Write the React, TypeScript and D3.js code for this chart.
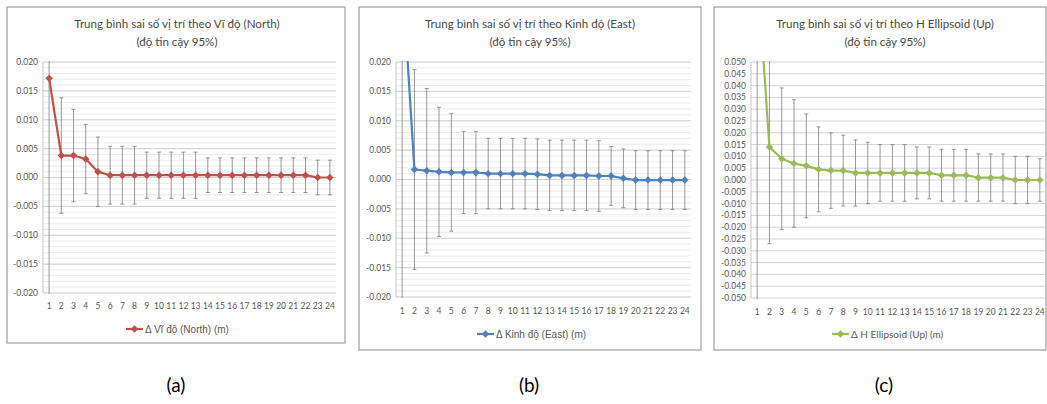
import React from 'react';
import * as d3 from 'd3';

// Epochs 1..24
const categories = ['1', '2', '3', '4', '5', '6', '7', '8', '9', '10', '11', '12', '13', '14', '15', '16', '17', '18', '19', '20', '21', '22', '23', '24'];

// Δ Vĩ độ (North), mean and 95% half-width (m)
const northMean = [0.0172, 0.0038, 0.0038, 0.0032, 0.0010, 0.0004, 0.0004, 0.0004, 0.0004, 0.0004, 0.0004, 0.0004, 0.0004, 0.0004, 0.0004, 0.0004, 0.0004, 0.0004, 0.0004, 0.0004, 0.0004, 0.0004, 0.0000, 0.0000];
const northErr = [0.040, 0.010, 0.008, 0.006, 0.006, 0.005, 0.005, 0.005, 0.004, 0.004, 0.004, 0.004, 0.004, 0.003, 0.003, 0.003, 0.003, 0.003, 0.003, 0.003, 0.003, 0.003, 0.003, 0.003];

// Δ Kinh độ (East)
const eastMean = [0.035, 0.0017, 0.0015, 0.0013, 0.0012, 0.0012, 0.0012, 0.0010, 0.0010, 0.0010, 0.0010, 0.0009, 0.0007, 0.0007, 0.0007, 0.0007, 0.0006, 0.0006, 0.0002, -0.0001, -0.0001, -0.0001, -0.0001, -0.0001];
const eastErr = [0.060, 0.017, 0.014, 0.011, 0.010, 0.007, 0.007, 0.006, 0.006, 0.006, 0.006, 0.006, 0.006, 0.006, 0.006, 0.006, 0.006, 0.005, 0.005, 0.005, 0.005, 0.005, 0.005, 0.005];

// Δ H Ellipsoid (Up)
const upMean = [0.090, 0.014, 0.009, 0.007, 0.006, 0.0045, 0.004, 0.004, 0.003, 0.003, 0.003, 0.003, 0.003, 0.003, 0.003, 0.002, 0.002, 0.002, 0.001, 0.001, 0.001, 0.000, 0.000, 0.000];
const upErr = [0.150, 0.041, 0.030, 0.027, 0.022, 0.018, 0.016, 0.015, 0.014, 0.013, 0.012, 0.012, 0.012, 0.011, 0.011, 0.011, 0.011, 0.011, 0.010, 0.010, 0.010, 0.010, 0.010, 0.009];

const calibri = 'Lato, "Open Sans", sans-serif';
const arial = '"Liberation Sans", Arial, sans-serif';

type PanelCfg = {
  id: string;
  box: [number, number, number, number];
  plot: { left: number; right: number; top: number; bottom: number };
  domain: [number, number];
  majorCount: number;
  minorCount: number;
  title: string;
  legend: string;
  legendFont: string;
  color: string;
  mean: number[];
  err: number[];
  titleX: number;
  xTickY: number;
  legendY: number;
  legendX: number;
  caption: string;
  captionX: number;
};

const panels: PanelCfg[] = [
  {
    id: 'a', box: [7, 7, 338, 336], plot: { left: 43, right: 336, top: 62, bottom: 293 },
    domain: [-0.02, 0.02], majorCount: 8, minorCount: 40,
    title: 'Trung bình sai số vị trí theo Vĩ độ (North)', legend: 'Δ Vĩ độ (North) (m)', legendFont: arial,
    color: '#c0504d', mean: northMean, err: northErr,
    titleX: 177, xTickY: 306, legendY: 329, legendX: 126, caption: '(a)', captionX: 168,
  },
  {
    id: 'b', box: [359, 7, 342, 343], plot: { left: 396, right: 691, top: 62, bottom: 297 },
    domain: [-0.02, 0.02], majorCount: 8, minorCount: 40,
    title: 'Trung bình sai số vị trí theo Kinh độ (East)', legend: 'Δ Kinh độ (East) (m)', legendFont: arial,
    color: '#4f81bd', mean: eastMean, err: eastErr,
    titleX: 530, xTickY: 311, legendY: 334, legendX: 477, caption: '(b)', captionX: 521,
  },
  {
    id: 'c', box: [714, 7, 332, 343], plot: { left: 751, right: 1046, top: 62, bottom: 298 },
    domain: [-0.05, 0.05], majorCount: 20, minorCount: 0,
    title: 'Trung bình sai số vị trí theo H Ellipsoid (Up)', legend: 'Δ H Ellipsoid (Up) (m)', legendFont: calibri,
    color: '#9bbb59', mean: upMean, err: upErr,
    titleX: 885, xTickY: 312, legendY: 334, legendX: 832, caption: '(c)', captionX: 876,
  },
];

const fmt = (v: number) => (Math.abs(v) < 1e-9 ? 0 : v).toFixed(3);

const Panel = ({ cfg }: { cfg: PanelCfg }) => {
  const { plot } = cfg;
  const x = d3.scaleBand<string>().domain(categories).range([plot.left, plot.right]);
  const y = d3.scaleLinear().domain(cfg.domain).range([plot.bottom, plot.top]);
  const cx = (c: string) => (x(c) ?? 0) + x.bandwidth() / 2;
  const major = y.ticks(cfg.majorCount);
  const minor = cfg.minorCount ? y.ticks(cfg.minorCount) : [];
  const line = d3.line<number>().x((_, i) => cx(categories[i])).y(d => y(d));
  const diamond = d3.symbol().type(d3.symbolSquare).size(28)();
  const clipId = `clip-${cfg.id}`;
  const [bx, by, bw, bh] = cfg.box;

  return (
    <g>
      <rect x={bx} y={by} width={bw} height={bh} fill="#fff" stroke="#a6a6a6" strokeWidth={1.3} />
      <clipPath id={clipId}>
        <rect x={plot.left} y={plot.top - 1} width={plot.right - plot.left} height={plot.bottom - plot.top + 2} />
      </clipPath>
      <text x={cfg.titleX} y={28} textAnchor="middle" fontFamily={calibri} fontSize={11.6} fill="#4a4a4a">{cfg.title}</text>
      <text x={cfg.titleX} y={46} textAnchor="middle" fontFamily={calibri} fontSize={11.6} fill="#4a4a4a">(độ tin cậy 95%)</text>
      {minor.map(t => (
        <line key={'m' + t} x1={plot.left} x2={plot.right} y1={y(t)} y2={y(t)} stroke="#e6e6e6" strokeWidth={0.8} />
      ))}
      {major.map(t => (
        <line key={'M' + t} x1={plot.left} x2={plot.right} y1={y(t)} y2={y(t)} stroke="#cfcfcf" strokeWidth={0.9} />
      ))}
      <line x1={plot.left} x2={plot.left} y1={plot.top} y2={plot.bottom} stroke="#bfbfbf" strokeWidth={0.9} />
      {major.map(t => (
        <text key={'yl' + t} x={plot.left - 5} y={y(t)} dy="0.35em" textAnchor="end" fontFamily={calibri} fontSize={8.5} fill="#595959">{fmt(t)}</text>
      ))}
      {categories.map(c => (
        <text key={'xl' + c} x={cx(c)} y={cfg.xTickY} dy="0.35em" textAnchor="middle" fontFamily={calibri} fontSize={8.5} fill="#595959">{c}</text>
      ))}
      <g clipPath={`url(#${clipId})`}>
        {categories.map((c, i) => {
          const hi = y(cfg.mean[i] + cfg.err[i]);
          const lo = y(cfg.mean[i] - cfg.err[i]);
          return (
            <g key={'e' + c} stroke="#7f7f7f" strokeWidth={0.8}>
              <line x1={cx(c)} x2={cx(c)} y1={hi} y2={lo} />
              <line x1={cx(c) - 2} x2={cx(c) + 2} y1={hi} y2={hi} />
              <line x1={cx(c) - 2} x2={cx(c) + 2} y1={lo} y2={lo} />
            </g>
          );
        })}
        <path d={line(cfg.mean) ?? ''} fill="none" stroke={cfg.color} strokeWidth={2.2} strokeLinejoin="round" />
        {cfg.mean.map((v, i) => (
          <path key={'p' + i} d={diamond ?? ''} transform={`translate(${cx(categories[i])},${y(v)}) rotate(45)`} fill={cfg.color} />
        ))}
      </g>
      <line x1={cfg.legendX} x2={cfg.legendX + 17} y1={cfg.legendY} y2={cfg.legendY} stroke={cfg.color} strokeWidth={2.2} />
      <path d={diamond ?? ''} transform={`translate(${cfg.legendX + 8.5},${cfg.legendY}) rotate(45)`} fill={cfg.color} />
      <text x={cfg.legendX + 19} y={cfg.legendY} dy="0.35em" fontFamily={cfg.legendFont} fontSize={10} fill="#595959">{cfg.legend}</text>
      <text x={cfg.captionX + 8} y={385} dy="0.35em" textAnchor="middle" fontFamily={calibri} fontSize={19} fill="#000">{cfg.caption}</text>
    </g>
  );
};

const App = () => (
  <svg width={1047} height={404} style={{ position: 'absolute', left: 0, top: 0, background: '#fff' }}>
    {panels.map(p => <Panel key={p.id} cfg={p} />)}
  </svg>
);

export default App;
